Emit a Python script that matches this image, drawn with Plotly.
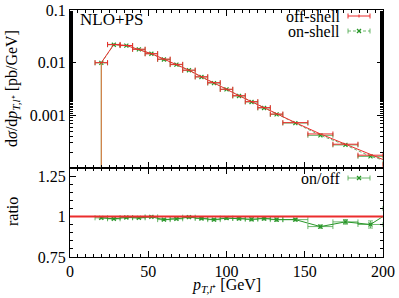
import plotly.graph_objects as go

# ---------------- data ----------------
bin_centers = [20, 28, 36, 44, 52, 60, 68, 76, 84, 92, 100, 108, 116, 124, 132,
               144, 160, 176, 192, 208]
bin_halfwidths = [4, 4, 4, 4, 4, 4, 4, 4, 4, 4, 4, 4, 4, 4, 4, 8, 8, 8, 8, 8]
off_shell = [0.0100, 0.0222, 0.0212, 0.0180, 0.0148, 0.0117, 0.0093, 0.0072,
             0.0054, 0.00417, 0.00313, 0.00236, 0.00182, 0.00140, 0.00106,
             0.000727, 0.000443, 0.000283, 0.000175, 0.000116]
on_shell = [0.00992, 0.02189, 0.02107, 0.01786, 0.01477, 0.01148, 0.00917,
            0.00717, 0.00534, 0.00409, 0.00310, 0.00233, 0.00179, 0.00138,
            0.00104, 0.000713, 0.000416, 0.000274, 0.000166, 0.000122]
ratio = [0.992, 0.986, 0.994, 0.992, 0.998, 0.981, 0.986, 0.996, 0.988, 0.981,
         0.990, 0.988, 0.983, 0.988, 0.981, 0.981, 0.938, 0.967, 0.951, 1.05]
ratio_err = [0.006, 0.005, 0.005, 0.005, 0.005, 0.006, 0.006, 0.006, 0.007,
             0.007, 0.008, 0.008, 0.009, 0.009, 0.010, 0.008, 0.010, 0.014,
             0.022, 0.030]
rel_err = 0.01
x_ticks = [0, 50, 100, 150, 200]
y_ticks_top = [0.001, 0.01, 0.1]
y_ticklabels_top = ["0.001", "0.01", "0.1"]
y_ticks_bot = [0.75, 1, 1.25]
y_ticklabels_bot = ["0.75", "1", "1.25"]

# ---------------- style ----------------
W, H = 399, 298
ML, MR, MT, MB = 70, 16, 10, 41
PW, PH = W - ML - MR, H - MT - MB
split = 89 / PH
FONT = "Liberation Serif"
RED = "rgb(235,45,45)"
ORANGE = "rgb(225,115,60)"
GREEN = "rgb(40,150,40)"
GREEN_L = "rgba(60,160,60,0.75)"


def px(xp):
    return (xp - ML) / PW


def py(yp):
    return (H - MB - yp) / PH


def err_minus(vals, first_to_bottom=True):
    out = [v * rel_err for v in vals]
    if first_to_bottom:
        out[0] = vals[0] * 0.999999
    return out


fig = go.Figure()

# top panel: on-shell (green dashed) then off-shell (red solid)
fig.add_trace(go.Scatter(
    x=bin_centers, y=on_shell, xaxis="x2", yaxis="y",
    mode="lines+markers",
    line=dict(color=GREEN_L, width=1, dash="3px,2px"),
    marker=dict(symbol="x-thin", size=4, line=dict(color=GREEN, width=1.2)),
    error_x=dict(type="data", array=bin_halfwidths, color=GREEN_L,
                 thickness=1, width=2.5),
    error_y=dict(type="data", symmetric=False,
                 array=[v * rel_err for v in on_shell],
                 arrayminus=err_minus(on_shell), color=GREEN_L,
                 thickness=1, width=0),
    showlegend=False, cliponaxis=True,
))
fig.add_trace(go.Scatter(
    x=bin_centers, y=off_shell, xaxis="x2", yaxis="y",
    mode="lines",
    line=dict(color=RED, width=1),
    error_x=dict(type="data", array=bin_halfwidths, color=RED,
                 thickness=1, width=2.5),
    error_y=dict(type="data", symmetric=False,
                 array=[v * rel_err for v in off_shell],
                 arrayminus=err_minus(off_shell),
                 color=ORANGE, thickness=1, width=0),
    showlegend=False, cliponaxis=True,
))

# ratio panel
fig.add_shape(type="line", xref="x domain", yref="y2", x0=0, x1=1, y0=1, y1=1,
              line=dict(color=RED, width=2))
fig.add_trace(go.Scatter(
    x=bin_centers, y=ratio, xaxis="x", yaxis="y2",
    mode="lines+markers",
    line=dict(color=GREEN, width=1),
    marker=dict(symbol="x-thin", size=4, line=dict(color=GREEN, width=1.2)),
    error_x=dict(type="data", array=bin_halfwidths, color=GREEN_L,
                 thickness=1, width=2.5),
    error_y=dict(type="data", array=ratio_err, color=GREEN_L,
                 thickness=1, width=2.5),
    showlegend=False, cliponaxis=True,
))

axis_common = dict(
    showline=True, linecolor="black", linewidth=1, mirror="allticks",
    ticks="inside", ticklen=6, tickcolor="black", tickwidth=1,
    showgrid=False, zeroline=False, automargin=False,
    tickfont=dict(family=FONT, size=16, color="black"),
)

fig.update_layout(
    width=W, height=H,
    margin=dict(l=ML, r=MR, t=MT, b=MB),
    paper_bgcolor="white", plot_bgcolor="white",
    xaxis=dict(domain=[0, 1], anchor="y2", range=[0, 200],
               tickvals=x_ticks, ticktext=[str(v) for v in x_ticks],
               minor=dict(ticks="inside", dtick=5, ticklen=3,
                          tickcolor="black", showgrid=False),
               **axis_common),
    xaxis2=dict(domain=[0, 1], anchor="y", range=[0, 200], matches="x",
                tickvals=x_ticks, showticklabels=False,
                minor=dict(ticks="inside", dtick=5, ticklen=3,
                           tickcolor="black", showgrid=False),
                **axis_common),
    yaxis=dict(domain=[split, 1], anchor="x2", type="log", range=[-4, -1],
               tickvals=y_ticks_top, ticktext=y_ticklabels_top,
               minor=dict(ticks="inside", ticklen=3, tickcolor="black",
                          showgrid=False),
               **axis_common),
    yaxis2=dict(domain=[0, split], anchor="x", range=[0.75, 1.3],
                tickvals=y_ticks_bot, ticktext=y_ticklabels_bot,
                minor=dict(ticks="inside", dtick=0.05, ticklen=3,
                           tickcolor="black", showgrid=False),
                **axis_common),
    font=dict(family=FONT, size=16, color="black"),
)

ann_font = dict(family=FONT, size=16, color="black")
anns = [
    dict(text="NLO+PS", x=px(78), y=py(19), xanchor="left", yanchor="middle",
         font=dict(family=FONT, size=17, color="black")),
    dict(text="off-shell", x=px(342), y=py(16), xanchor="right", yanchor="middle"),
    dict(text="on-shell", x=px(342), y=py(31), xanchor="right", yanchor="middle"),
    dict(text="on/off", x=px(342), y=py(178), xanchor="right", yanchor="middle"),
    dict(text="d<i>σ</i>/d<i>p</i><sub><i>T,l</i>⁺</sub> [pb/GeV]",
         x=px(12), y=py(89), xanchor="center", yanchor="middle", textangle=-90),
    dict(text="ratio", x=px(12), y=py(212), xanchor="center", yanchor="middle",
         textangle=-90),
    dict(text="<i>p</i><sub><i>T,l</i>⁺</sub> [GeV]",
         x=px(226), y=py(285), xanchor="center", yanchor="middle"),
]
for a in anns:
    a.setdefault("font", ann_font)
    fig.add_annotation(xref="paper", yref="paper", showarrow=False, **a)

# custom legend samples
def hbar(y, color, dash="solid"):
    fig.add_shape(type="line", xref="paper", yref="paper",
                  x0=px(348), x1=px(370), y0=py(y), y1=py(y),
                  line=dict(color=color, width=1, dash=dash))
    for xe in (348, 370):
        fig.add_shape(type="line", xref="paper", yref="paper",
                      x0=px(xe), x1=px(xe), y0=py(y - 2.5), y1=py(y + 2.5),
                      line=dict(color=color, width=1))


def xmark(x, y, color):
    for d in (1, -1):
        fig.add_shape(type="line", xref="paper", yref="paper",
                      x0=px(x - 2), x1=px(x + 2), y0=py(y - 2 * d), y1=py(y + 2 * d),
                      line=dict(color=color, width=1.2))


hbar(16, RED)
fig.add_shape(type="line", xref="paper", yref="paper", x0=px(359), x1=px(359),
              y0=py(14.5), y1=py(17.5), line=dict(color=RED, width=1))
hbar(31, GREEN_L, dash="3px,2px")
xmark(359, 31, GREEN)
hbar(178, GREEN_L)
xmark(359, 178, GREEN)

fig.write_html("out.html",
               config={"displayModeBar": False, "staticPlot": True},
               post_script="document.body.style.margin='0px';"
                           "document.body.style.overflow='hidden';")
